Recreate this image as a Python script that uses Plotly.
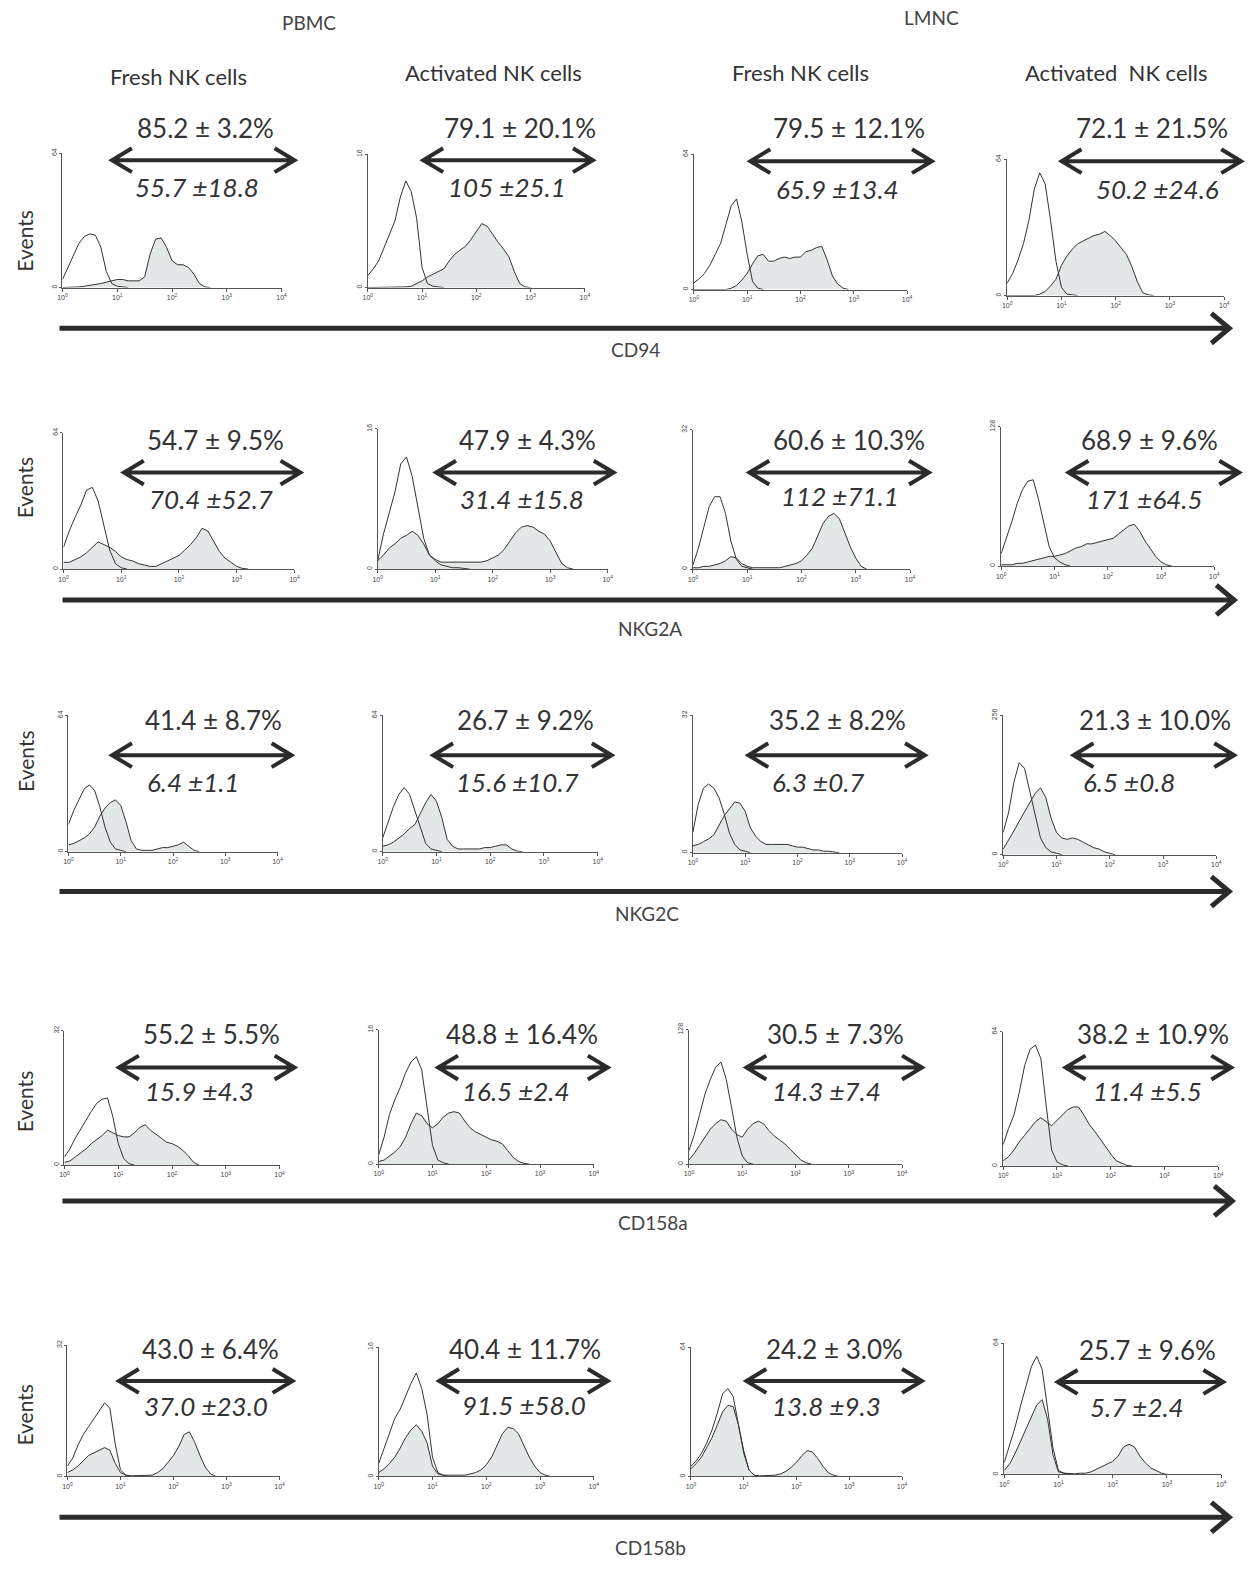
import plotly.graph_objects as go

W, H = 1258, 1572

# ---------------- data ----------------
# fluorescence channel positions (log10 of intensity)
log_channel = [0.0, 0.1, 0.2, 0.3, 0.4, 0.5, 0.6, 0.7, 0.8, 0.9,
               1.0, 1.1, 1.2, 1.3, 1.4, 1.5, 1.6, 1.7, 1.8, 1.9,
               2.0, 2.1, 2.2, 2.3, 2.4, 2.5, 2.6, 2.7, 2.8, 2.9,
               3.0, 3.1, 3.2, 3.3, 3.4]
decade_ticks = [0, 1, 2, 3, 4]
decade_labels = ["10<sup>0</sup>", "10<sup>1</sup>", "10<sup>2</sup>",
                 "10<sup>3</sup>", "10<sup>4</sup>"]

markers = ["CD94", "NKG2A", "NKG2C", "CD158a", "CD158b"]
source_titles = ["PBMC", "LMNC"]
column_titles = ["Fresh NK cells", "Activated NK cells", "Fresh NK cells", "Activated  NK cells"]

# full-scale event count of each histogram (row-major)
events_max = [64, 16, 64, 64,
              64, 16, 32, 128,
              64, 64, 32, 256,
              32, 16, 128, 64,
              32, 16, 64, 64]

positive_pct = ["85.2 ± 3.2%", "79.1 ± 20.1%", "79.5 ± 12.1%", "72.1 ± 21.5%",
                "54.7 ± 9.5%", "47.9 ± 4.3%", "60.6 ± 10.3%", "68.9 ± 9.6%",
                "41.4 ± 8.7%", "26.7 ± 9.2%", "35.2 ± 8.2%", "21.3 ± 10.0%",
                "55.2 ± 5.5%", "48.8 ± 16.4%", "30.5 ± 7.3%", "38.2 ± 10.9%",
                "43.0 ± 6.4%", "40.4 ± 11.7%", "24.2 ± 3.0%", "25.7 ± 9.6%"]
mfi_text = ["55.7 ±18.8", "105 ±25.1", "65.9 ±13.4", "50.2 ±24.6",
            "70.4 ±52.7", "31.4 ±15.8", "112 ±71.1", "171 ±64.5",
            "6.4 ±1.1", "15.6 ±10.7", "6.3 ±0.7", "6.5 ±0.8",
            "15.9 ±4.3", "16.5 ±2.4", "14.3 ±7.4", "11.4 ±5.5",
            "37.0 ±23.0", "91.5 ±58.0", "13.8 ±9.3", "5.7 ±2.4"]

# histogram heights, % of full scale (iso = control outline, ab = stained, shaded)
cd94_pb_fresh_iso = [6, 15, 25, 33, 38, 40, 39, 30, 12, 3, 1, 0.5, 0]
cd94_pb_fresh_ab = [0, 0, 0, 0.5, 1, 1.5, 2, 3, 4, 5, 6, 6, 5, 5, 5, 8, 25, 36, 37, 30, 20, 17, 17, 15, 10, 3, 0.5, 0]
cd94_pb_act_iso = [9, 14, 20, 30, 40, 50, 68, 80, 72, 52, 15, 3, 1, 0.5, 0]
cd94_pb_act_ab = [0, 0, 0, 0, 0, 0, 0, 0.5, 1, 3, 5, 8, 10, 12, 14, 20, 25, 28, 31, 36, 42, 48, 46, 40, 34, 29, 23, 12, 3, 0.5, 0]
cd94_lm_fresh_iso = [5, 8, 12, 18, 26, 34, 48, 62, 67, 50, 26, 6, 1, 0]
cd94_lm_fresh_ab = [0, 0, 0, 0, 0, 0, 0, 1, 3, 7, 12, 19, 25, 26, 21, 21, 23, 24, 23, 24, 24, 28, 29, 31, 32, 22, 10, 4, 1, 0]
cd94_lm_act_iso = [9, 16, 26, 38, 55, 78, 90, 82, 55, 25, 6, 1, 0.5, 0]
cd94_lm_act_ab = [0, 0, 0, 0, 0, 0, 1, 3, 7, 12, 22, 29, 34, 38, 40, 42, 44, 45, 47, 44, 40, 35, 30, 21, 10, 2, 0.5, 0]

nkg2a_pb_fresh_iso = [16, 28, 38, 47, 58, 60, 50, 33, 14, 4, 1, 0]
nkg2a_pb_fresh_ab = [5, 5, 7, 9, 12, 16, 20, 18, 16, 13, 9, 7, 6, 4, 3, 2, 2, 4, 6, 8, 10, 14, 18, 23, 30, 28, 20, 13, 8, 5, 2, 0.5, 0]
nkg2a_pb_act_iso = [6, 25, 40, 55, 75, 80, 66, 45, 22, 10, 6, 3, 2, 1, 1, 0.5, 0]
nkg2a_pb_act_ab = [6, 10, 15, 18, 22, 24, 27, 24, 18, 10, 7, 5, 5, 5, 5, 5, 5, 5, 5, 6, 8, 10, 14, 20, 26, 30, 31, 30, 27, 25, 20, 12, 4, 1, 0]
nkg2a_lm_fresh_iso = [3, 15, 30, 45, 52, 52, 40, 20, 7, 2, 1, 0]
nkg2a_lm_fresh_ab = [1, 1, 2, 2, 3, 4, 6, 9, 8, 4, 2, 1, 1, 1, 1, 1, 1, 2, 3, 4, 6, 10, 15, 24, 33, 38, 40, 36, 26, 16, 8, 2, 0]
nkg2a_lm_act_iso = [9, 20, 32, 45, 55, 61, 62, 48, 30, 14, 6, 3, 1, 0]
nkg2a_lm_act_ab = [1, 1, 1, 2, 2, 3, 4, 5, 6, 7, 7, 8, 9, 11, 13, 14, 16, 16, 17, 18, 19, 20, 23, 26, 29, 30, 25, 18, 12, 7, 3, 1, 0]

nkg2c_pb_fresh_iso = [20, 30, 38, 46, 49, 45, 33, 18, 7, 2, 1, 0]
nkg2c_pb_fresh_ab = [5, 6, 8, 10, 13, 18, 26, 32, 36, 38, 34, 22, 8, 2, 1, 1, 1, 2, 3, 3, 4, 5, 7, 4, 1, 0]
nkg2c_pb_act_iso = [10, 22, 33, 42, 47, 42, 30, 18, 6, 2, 1, 0]
nkg2c_pb_act_ab = [4, 5, 7, 10, 13, 17, 20, 28, 36, 42, 37, 25, 9, 4, 2, 2, 2, 2, 2, 3, 3, 4, 5, 5, 2, 0.5, 0]
nkg2c_lm_fresh_iso = [15, 35, 47, 50, 47, 40, 28, 14, 6, 2, 1, 0]
nkg2c_lm_fresh_ab = [5, 6, 8, 10, 13, 20, 27, 32, 37, 36, 30, 18, 12, 8, 6, 6, 6, 6, 6, 5, 4, 4, 3, 2, 2, 1, 1, 0.5, 0]
nkg2c_lm_act_iso = [16, 30, 52, 66, 62, 45, 28, 12, 5, 2, 1, 0]
nkg2c_lm_act_ab = [4, 10, 17, 24, 31, 38, 44, 48, 41, 26, 16, 12, 11, 12, 11, 9, 7, 5, 4, 2, 1, 0]

cd158a_pb_fresh_iso = [6, 12, 20, 27, 34, 40, 46, 49, 50, 36, 16, 5, 1, 0]
cd158a_pb_fresh_ab = [2, 3, 6, 9, 12, 16, 19, 22, 26, 24, 22, 21, 21, 24, 28, 30, 26, 23, 20, 17, 16, 14, 11, 7, 2, 0]
cd158a_pb_act_iso = [7, 20, 37, 48, 57, 68, 76, 80, 70, 42, 14, 3, 1, 0]
cd158a_pb_act_ab = [2, 3, 6, 9, 13, 20, 30, 38, 36, 30, 27, 30, 35, 38, 39, 38, 32, 27, 24, 22, 20, 18, 17, 15, 10, 5, 2, 0.5, 0]
cd158a_lm_fresh_iso = [10, 22, 37, 52, 63, 72, 76, 63, 42, 20, 6, 1, 0]
cd158a_lm_fresh_ab = [3, 8, 14, 20, 26, 30, 33, 32, 26, 22, 20, 26, 30, 32, 30, 25, 21, 18, 15, 11, 7, 3, 1, 0]
cd158a_lm_act_iso = [16, 28, 38, 55, 75, 87, 90, 80, 45, 12, 3, 1, 0]
cd158a_lm_act_ab = [4, 7, 12, 18, 23, 28, 33, 36, 33, 30, 34, 38, 42, 44, 44, 38, 31, 26, 20, 15, 9, 4, 2, 0.5, 0]

cd158b_pb_fresh_iso = [8, 14, 24, 32, 38, 44, 50, 56, 52, 25, 5, 1, 0]
cd158b_pb_fresh_ab = [3, 5, 8, 12, 16, 18, 20, 22, 20, 10, 3, 1, 0.5, 0.5, 0.5, 1, 1, 3, 6, 11, 16, 23, 32, 34, 26, 16, 7, 2, 0]
cd158b_pb_act_iso = [10, 22, 34, 45, 52, 62, 72, 80, 68, 48, 15, 3, 1, 0]
cd158b_pb_act_ab = [3, 6, 10, 15, 22, 30, 36, 40, 35, 26, 8, 2, 1, 1, 1, 1, 1, 2, 3, 5, 9, 15, 24, 33, 38, 37, 33, 24, 15, 8, 3, 1, 0]
cd158b_lm_fresh_iso = [8, 12, 18, 26, 36, 49, 64, 68, 62, 40, 18, 5, 1, 0]
cd158b_lm_fresh_ab = [6, 10, 15, 22, 30, 40, 50, 55, 54, 40, 20, 5, 1, 0.5, 0.5, 0.5, 1, 2, 4, 7, 11, 16, 20, 19, 14, 8, 3, 1, 0]
cd158b_lm_act_iso = [9, 22, 36, 52, 67, 82, 90, 80, 50, 20, 3, 1, 0]
cd158b_lm_act_ab = [3, 8, 16, 25, 34, 44, 53, 57, 42, 15, 2, 1, 0.5, 0.5, 1, 1, 2, 4, 6, 8, 10, 14, 21, 23, 21, 14, 9, 5, 3, 1, 0]

panels = [
    (cd94_pb_fresh_iso, cd94_pb_fresh_ab), (cd94_pb_act_iso, cd94_pb_act_ab),
    (cd94_lm_fresh_iso, cd94_lm_fresh_ab), (cd94_lm_act_iso, cd94_lm_act_ab),
    (nkg2a_pb_fresh_iso, nkg2a_pb_fresh_ab), (nkg2a_pb_act_iso, nkg2a_pb_act_ab),
    (nkg2a_lm_fresh_iso, nkg2a_lm_fresh_ab), (nkg2a_lm_act_iso, nkg2a_lm_act_ab),
    (nkg2c_pb_fresh_iso, nkg2c_pb_fresh_ab), (nkg2c_pb_act_iso, nkg2c_pb_act_ab),
    (nkg2c_lm_fresh_iso, nkg2c_lm_fresh_ab), (nkg2c_lm_act_iso, nkg2c_lm_act_ab),
    (cd158a_pb_fresh_iso, cd158a_pb_fresh_ab), (cd158a_pb_act_iso, cd158a_pb_act_ab),
    (cd158a_lm_fresh_iso, cd158a_lm_fresh_ab), (cd158a_lm_act_iso, cd158a_lm_act_ab),
    (cd158b_pb_fresh_iso, cd158b_pb_fresh_ab), (cd158b_pb_act_iso, cd158b_pb_act_ab),
    (cd158b_lm_fresh_iso, cd158b_lm_fresh_ab), (cd158b_lm_act_iso, cd158b_lm_act_ab),
]

# ---------------- layout (pixel positions) ----------------
# plot box: x of 10^0, x of 10^4, top, bottom
boxes = [
    (58, 279, 147, 282), (366, 585, 148, 282), (695, 910, 148, 284), (1011, 1230, 153, 290),
    (59, 292, 428, 565), (376, 608, 424, 565), (694, 913, 425, 565), (1005, 1220, 422, 562),
    (64, 275, 712, 849), (381, 598, 712, 849), (694, 905, 712, 850), (1007, 1222, 712, 852),
    (60, 277, 1029, 1164), (377, 594, 1028, 1163), (690, 905, 1028, 1163), (1007, 1224, 1030, 1165),
    (63, 277, 1345, 1477), (377, 594, 1347, 1477), (692, 905, 1347, 1477), (1008, 1227, 1343, 1475),
]
# pct text cx, cy, arrow x0, x1, y, mfi text cx, cy
labels = [
    (202, 128, 108, 292, 154, 194, 184), (520, 128, 422, 593, 154, 506, 184),
    (851, 128, 752, 935, 155, 840, 186), (1157, 128, 1066, 1247, 155, 1163, 186),
    (212, 441, 120, 298, 468, 208, 498), (527, 441, 435, 614, 468, 522, 498),
    (851, 441, 751, 932, 468, 842, 495), (1155, 441, 1073, 1245, 468, 1150, 498),
    (210, 723, 108, 289, 752, 190, 782), (525, 723, 432, 612, 752, 517, 782),
    (840, 723, 750, 928, 752, 820, 782), (1160, 723, 1078, 1240, 752, 1134, 782),
    (208, 1038, 115, 292, 1066, 196, 1093), (522, 1038, 437, 608, 1066, 516, 1093),
    (838, 1038, 748, 925, 1066, 829, 1093), (1158, 1038, 1070, 1237, 1066, 1153, 1093),
    (207, 1355, 115, 290, 1381, 203, 1409), (525, 1355, 438, 608, 1381, 524, 1408),
    (837, 1355, 748, 925, 1381, 829, 1409), (1153, 1356, 1062, 1229, 1382, 1142, 1410),
]
big_arrows = [(55, 1235, 323), (58, 1240, 596), (55, 1235, 889), (58, 1238, 1200), (55, 1235, 1518)]
marker_pos = [(636, 350), (651, 631), (648, 917), (654, 1228), (651, 1554)]
events_y = [235, 483, 758, 1100, 1415]
col_title_pos = [(175, 76), (493, 72), (803, 72), (1121, 72)]
source_pos = [(307, 22), (935, 17)]
TEXT_DY = 6   # raise text so its visual centre sits on the target y
ITALIC_DY = 3


def px(x):
    return x / W


def py(y):
    return 1 - y / H


def ty(y, d=TEXT_DY):
    return py(y - d)


LINE = "#333333"
FILL = "#e4e7e7"
TXT = "#333333"
FONT = "Lato, 'Noto Sans', sans-serif"

fig = go.Figure()
layout = dict(width=W, height=H, margin=dict(l=0, r=0, t=0, b=0),
              paper_bgcolor="white", plot_bgcolor="white",
              font=dict(family=FONT, color=TXT), showlegend=False)

annotations = []
shapes = []

for i, (iso, ab) in enumerate(panels):
    n = i + 1
    xa = "x" if n == 1 else f"x{n}"
    ya = "y" if n == 1 else f"y{n}"
    ymax = events_max[i]
    L, R, T, B = boxes[i]
    fig.add_trace(go.Scatter(x=log_channel[:len(ab)], y=[v * ymax / 100 for v in ab],
                             mode="lines", line=dict(color=LINE, width=1),
                             fill="tozeroy", fillcolor=FILL, xaxis=xa, yaxis=ya,
                             hoverinfo="skip"))
    fig.add_trace(go.Scatter(x=log_channel[:len(iso)], y=[v * ymax / 100 for v in iso],
                             mode="lines", line=dict(color=LINE, width=1),
                             xaxis=xa, yaxis=ya, hoverinfo="skip"))
    layout["xaxis" if n == 1 else f"xaxis{n}"] = dict(
        domain=[px(L), px(R)], anchor=ya, range=[0, 4], showgrid=False, zeroline=False,
        showline=True, linecolor="#555", linewidth=1, ticks="outside", ticklen=3,
        tickwidth=1, tickcolor="#555", tickvals=decade_ticks, ticktext=decade_labels,
        tickfont=dict(size=7, color="#444", family="Arial"), fixedrange=True)
    layout["yaxis" if n == 1 else f"yaxis{n}"] = dict(
        domain=[py(B), py(T)], anchor=xa, range=[0, ymax], showgrid=False, zeroline=False,
        showline=True, linecolor="#555", linewidth=1, ticks="outside", ticklen=2,
        tickcolor="#555", tickvals=[0, ymax], ticktext=["0", str(ymax)], tickangle=-90,
        tickfont=dict(size=7, color="#444", family="Arial"), fixedrange=True)

    cx, cy, ax0, ax1, ay, mx, my = labels[i]
    annotations.append(dict(x=px(cx), y=ty(cy), xref="paper", yref="paper",
                            text=positive_pct[i], showarrow=False,
                            font=dict(size=26, color=TXT), xanchor="center", yanchor="middle"))
    annotations.append(dict(x=px(mx), y=ty(my, ITALIC_DY), xref="paper", yref="paper",
                            text="<i>" + mfi_text[i] + "</i>", showarrow=False,
                            font=dict(size=26, color=TXT), xanchor="center", yanchor="middle"))
    hl, hh = 20, 12
    path = (f"M {px(ax0)},{py(ay)} L {px(ax1)},{py(ay)} "
            f"M {px(ax0 + hl)},{py(ay - hh)} L {px(ax0)},{py(ay)} L {px(ax0 + hl)},{py(ay + hh)} "
            f"M {px(ax1 - hl)},{py(ay - hh)} L {px(ax1)},{py(ay)} L {px(ax1 - hl)},{py(ay + hh)}")
    shapes.append(dict(type="path", path=path, xref="paper", yref="paper",
                       line=dict(color="#2b2b2b", width=4)))

for r, (x0, x1, y) in enumerate(big_arrows):
    hl, hh = 18, 15
    path = (f"M {px(x0)},{py(y)} L {px(x1)},{py(y)} "
            f"M {px(x1 - hl)},{py(y - hh)} L {px(x1)},{py(y)} L {px(x1 - hl)},{py(y + hh)}")
    shapes.append(dict(type="path", path=path, xref="paper", yref="paper",
                       line=dict(color="#2b2b2b", width=5)))
    mx, my = marker_pos[r]
    annotations.append(dict(x=px(mx), y=ty(my), xref="paper", yref="paper", text=markers[r],
                            showarrow=False, font=dict(size=19, color="#444"),
                            xanchor="center", yanchor="middle"))
    annotations.append(dict(x=px(20), y=py(events_y[r]), xref="paper", yref="paper",
                            text="Events", textangle=-90, showarrow=False,
                            font=dict(size=21, color=TXT), xanchor="center", yanchor="middle"))

for k, t in enumerate(column_titles):
    cx, cy = col_title_pos[k]
    annotations.append(dict(x=px(cx), y=ty(cy), xref="paper", yref="paper", text=t,
                            showarrow=False, font=dict(size=22, color=TXT),
                            xanchor="center", yanchor="middle"))
for k, t in enumerate(source_titles):
    cx, cy = source_pos[k]
    annotations.append(dict(x=px(cx), y=ty(cy), xref="paper", yref="paper", text=t,
                            showarrow=False, font=dict(size=19, color="#444"),
                            xanchor="center", yanchor="middle"))

layout["annotations"] = annotations
layout["shapes"] = shapes
fig.update_layout(**layout)
fig.write_html("out.html")
